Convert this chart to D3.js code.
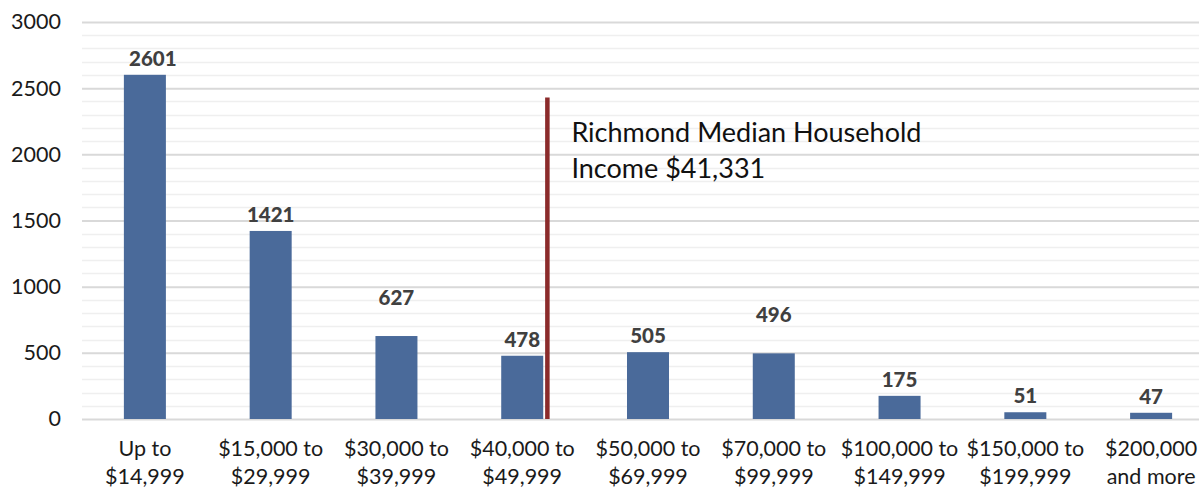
<!DOCTYPE html>
<html>
<head>
<meta charset="utf-8">
<script src="https://cdn.jsdelivr.net/npm/d3@7"></script>
<style>
  html, body { margin: 0; padding: 0; background: #fff; }
  svg { display: block; font-family: Lato, "Open Sans", sans-serif; }
</style>
</head>
<body>
<svg id="chart" width="1199" height="489"></svg>
<script>
// Households by income bracket
const categories = [
  "Up to|$14,999", "$15,000 to|$29,999", "$30,000 to|$39,999", "$40,000 to|$49,999",
  "$50,000 to|$69,999", "$70,000 to|$99,999", "$100,000 to|$149,999",
  "$150,000 to|$199,999", "$200,000|and more"
];
const households = [2601, 1421, 627, 478, 505, 496, 175, 51, 47];
const yTicks = [0, 500, 1000, 1500, 2000, 2500, 3000];
const medianLabel = ["Richmond Median Household", "Income $41,331"];
const medianLineTop = 2430;     // height of the median marker, in households
const medianSlot = 3.7;         // marker position in category units
// labels that sit away from their default spot above the bar
const labelRaise = { 2: 22, 5: 22 };
const labelShift = { 0: 8 };

const svg = d3.select("#chart");
const margin = { left: 82, top: 22, bottom: 70 };
const plotRight = 1214;
const height = 489;

const x = d3.scaleBand().domain(categories).range([margin.left, plotRight]).paddingInner(0.666).paddingOuter(0.333);
const y = d3.scaleLinear().domain([0, 3000]).range([height - margin.bottom, margin.top]);
const slot = d3.scaleLinear().domain([0, categories.length]).range([margin.left, plotRight]);

// minor gridlines every 100
svg.append("g").selectAll("line").data(d3.range(100, 3000, 100).filter(v => v % 500))
  .join("line")
  .attr("x1", margin.left).attr("x2", plotRight)
  .attr("y1", d => Math.round(y(d)) + 0.5).attr("y2", d => Math.round(y(d)) + 0.5)
  .attr("stroke", "#efefef").attr("stroke-width", 1.5);

// major gridlines and y axis labels
const yAxis = d3.axisLeft(y).tickValues(yTicks).tickSize(-(plotRight - margin.left)).tickPadding(21).tickFormat(d3.format("d"));
const gy = svg.append("g").attr("transform", `translate(${margin.left},0)`).call(yAxis);
gy.select(".domain").remove();
gy.selectAll(".tick line").attr("stroke", "#d9d9d9").attr("stroke-width", 2);
gy.selectAll(".tick text").attr("font-size", 21.5).attr("fill", "#1a1a1a").attr("font-family", "Lato, sans-serif");

// bars
svg.append("g").selectAll("rect").data(households)
  .join("rect")
  .attr("x", (d, i) => x(categories[i]))
  .attr("width", x.bandwidth())
  .attr("y", d => y(d))
  .attr("height", d => y(0) - y(d))
  .attr("fill", "#4a6a9a");

// value labels
svg.append("g").selectAll("text").data(households)
  .join("text")
  .attr("x", (d, i) => x(categories[i]) + x.bandwidth() / 2 + (labelShift[i] || 0))
  .attr("y", (d, i) => y(d) - 9 - (labelRaise[i] || 0))
  .attr("text-anchor", "middle")
  .attr("font-size", 20.5).attr("font-weight", 900).attr("fill", "#404040")
  .text(d => d);

// category labels (two lines)
const xl = svg.append("g").selectAll("text").data(categories)
  .join("text")
  .attr("x", d => x(d) + x.bandwidth() / 2)
  .attr("y", 456)
  .attr("text-anchor", "middle")
  .attr("font-size", 21.5).attr("fill", "#1a1a1a");
xl.selectAll("tspan").data(d => d.split("|"))
  .join("tspan")
  .attr("x", function () { return this.parentNode.getAttribute("x"); })
  .attr("dy", (d, i) => i ? 28 : 0)
  .text(d => d);

// median income marker
svg.append("line")
  .attr("x1", slot(medianSlot)).attr("x2", slot(medianSlot))
  .attr("y1", y(medianLineTop)).attr("y2", y(0))
  .attr("stroke", "#8b2b2b").attr("stroke-width", 4.5);

svg.append("text")
  .attr("x", slot(medianSlot) + 24).attr("y", 142)
  .attr("font-size", 27).attr("fill", "#111")
  .selectAll("tspan").data(medianLabel).join("tspan")
  .attr("x", slot(medianSlot) + 24)
  .attr("dy", (d, i) => i ? 36 : 0)
  .text(d => d);
</script>
</body>
</html>
